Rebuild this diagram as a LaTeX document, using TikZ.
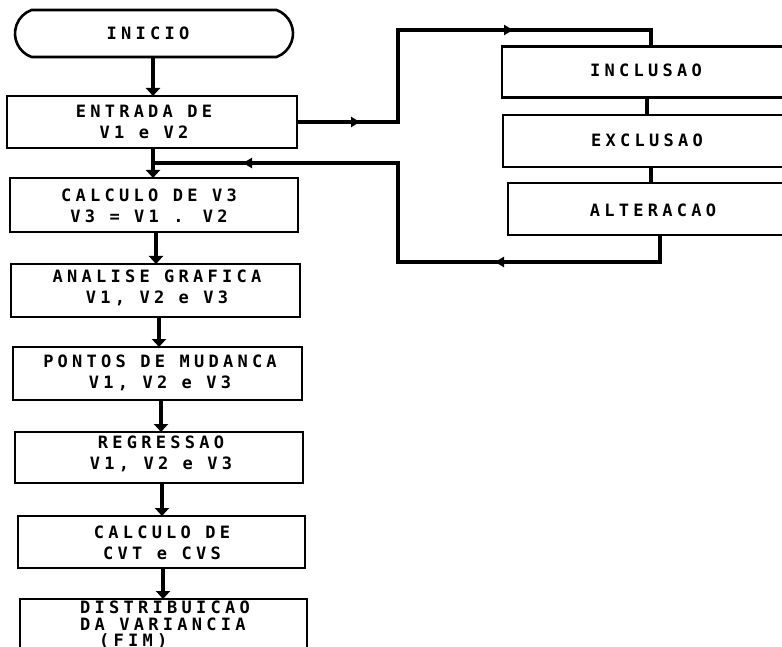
\documentclass[tikz,border=0pt]{standalone}
\usepackage{fontspec}
\usetikzlibrary{arrows.meta,shapes.misc,decorations.markings}
\newfontfamily\flowfont[LetterSpace=25, BoldFont={DejaVu Sans Mono Bold}]{DejaVu Sans Mono}
\tikzset{
  box/.style={draw, rectangle, line width=2.6pt, inner sep=0pt, outer sep=0pt},
  term/.style={draw, rounded rectangle, rounded rectangle arc length=140, line width=2.6pt, inner sep=0pt, outer sep=0pt},
  txt/.style={font=\flowfont\bfseries\fontsize{17}{21}\selectfont, align=center, inner sep=0pt},
  flow/.style={line width=4.5pt, -{Triangle[width=14pt,length=8pt]}},
  conn/.style={line width=3.5pt},
}
\begin{document}
\begin{tikzpicture}[x=1pt,y=-1pt]
\useasboundingbox (0,0) rectangle (782,647);
\clip (0,0) rectangle (782,647);
\fill[white] (0,0) rectangle (782,647);
% main column boxes
\node[term, minimum width=278pt, minimum height=47pt] (inicio) at (154,33.5) {};
\node[box, minimum width=290pt, minimum height=52pt] (entrada) at (152,122) {};
\node[box, minimum width=288pt, minimum height=54pt] (calc) at (154,205) {};
\node[box, minimum width=289pt, minimum height=53pt] (anal) at (155.5,290.5) {};
\node[box, minimum width=289pt, minimum height=53pt] (pont) at (157.5,373.5) {};
\node[box, minimum width=288pt, minimum height=51pt] (regr) at (159,457.5) {};
\node[box, minimum width=287pt, minimum height=52pt] (cvt) at (161.5,542) {};
\node[box, minimum width=287pt, minimum height=71pt] (dist) at (163.5,634.5) {};
% right boxes
\node[box, minimum width=328pt, minimum height=51pt] (incl) at (666,72) {};
\node[box, minimum width=327pt, minimum height=52pt] (excl) at (666.5,141) {};
\node[box, minimum width=322pt, minimum height=52pt] (alt) at (669,209) {};
% texts
\node[txt] (inicioT) at (148,33) {INICIO};
\node[txt] (entradaT) at (144,121.5) {ENTRADA DE\\V1 e V2};
\node[txt] (calcT) at (149,206) {CALCULO DE V3\\V3 = V1 . V2};
\node[txt] (analT) at (157,287.5) {ANALISE GRAFICA\\V1, V2 e V3};
\node[txt] (pontT) at (160,373) {PONTOS DE MUDANCA\\V1, V2 e V3};
\node[txt] (regrT) at (161,454) {REGRESSAO\\V1, V2 e V3};
\node[txt] (cvtT) at (162,542.5) {CALCULO DE\\CVT e CVS};
\node[txt, align=left, anchor=west, font=\flowfont\bfseries\fontsize{17}{16.5}\selectfont] (distT) at (80,625) {DISTRIBUICAO\\DA VARIANCIA\\\hspace*{19pt}(FIM)};
\node[txt] (inclT) at (646,70) {INCLUSAO};
\node[txt] (exclT) at (647,140) {EXCLUSAO};
\node[txt] (altT) at (653,210) {ALTERACAO};
% column coordinates
\coordinate (a1) at (153,0);
\coordinate (a2) at (153,0);
\coordinate (a3) at (156,0);
\coordinate (a4) at (159,0);
\coordinate (a5) at (161,0);
\coordinate (a6) at (162,0);
\coordinate (a7) at (163,0);
\draw[flow] (inicio.south -| a1) -- (entrada.north -| a1);
\draw[flow] (entrada.south -| a2) -- (calc.north -| a2);
\draw[flow] (calc.south -| a3) -- (anal.north -| a3);
\draw[flow] (anal.south -| a4) -- (pont.north -| a4);
\draw[flow] (pont.south -| a5) -- (regr.north -| a5);
\draw[flow] (regr.south -| a6) -- (cvt.north -| a6);
\draw[flow] (cvt.south -| a7) -- (dist.north -| a7);
% right loop
\coordinate (j1) at (398,122);
\coordinate (j2) at (398,30);
\coordinate (j3) at (651,30);
\draw[conn, postaction={decorate}, decoration={markings,
    mark=at position 63pt with {\arrow{Triangle[width=10pt,length=9pt]}},
    mark=at position 308pt with {\arrow{Triangle[width=10pt,length=9pt]}}}]
  (entrada.east) -- (j1) -- (j2) -- (j3) -- (incl.north -| j3);
\coordinate (m1) at (647,0);
\coordinate (m2) at (651,0);
\draw[conn] (incl.south -| m1) -- (excl.north -| m1);
\draw[conn] (excl.south -| m2) -- (alt.north -| m2);
\coordinate (k1) at (660,262);
\coordinate (k2) at (398,262);
\coordinate (k3) at (398,163);
\coordinate (k4) at (153,163);
\draw[conn, postaction={decorate}, decoration={markings,
    mark=at position 192pt with {\arrow{Triangle[width=10pt,length=9pt]}},
    mark=at position 543pt with {\arrow{Triangle[width=10pt,length=9pt]}}}]
  (alt.south -| k1) -- (k1) -- (k2) -- (k3) -- (k4);
\end{tikzpicture}
\end{document}
